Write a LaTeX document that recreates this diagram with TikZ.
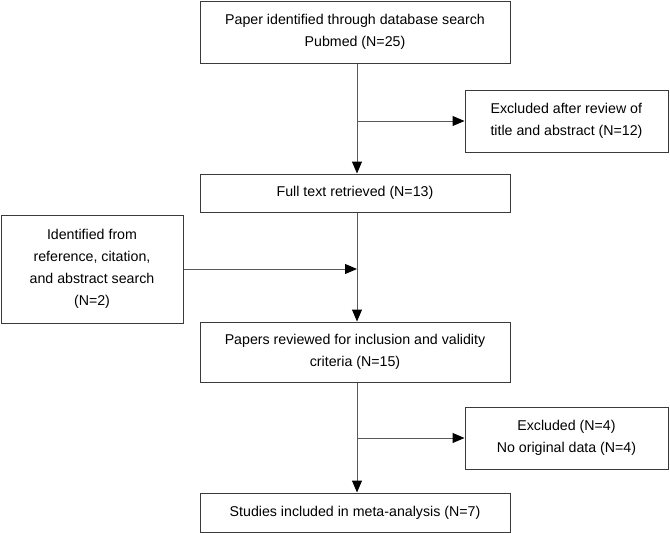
\documentclass[tikz,border=0pt]{standalone}
\usepackage{fontspec}
\setmainfont{Liberation Sans}
\usetikzlibrary{arrows.meta}
\definecolor{linegray}{HTML}{5A5A5A}
\definecolor{boxgray}{HTML}{3A3A3A}
\begin{document}
\begin{tikzpicture}[x=1pt, y=-1pt,
    box/.style={draw=boxgray, line width=1pt, inner sep=0pt, align=center,
      font=\fontsize{14.2}{21.5}\selectfont},
    mainbox/.style={box, minimum width=310pt},
    sidebox/.style={box, minimum width=203pt, minimum height=62pt},
    flow/.style={draw=linegray, line width=1pt,
      -{Triangle[length=12pt,width=10pt,color=black]}}]
  \useasboundingbox (0,0) rectangle (670,533);

  % Main column
  \node[mainbox, minimum height=62pt] (ident) at (355,32) {Paper identified through database search\\Pubmed (N=25)};
  \node[mainbox, minimum height=38pt] (full) at (355,193) {Full text retrieved (N=13)};
  \node[mainbox, minimum height=60pt] (review) at (355,352) {Papers reviewed for inclusion and validity\\criteria (N=15)};
  \node[mainbox, minimum height=39pt] (incl) at (355,512.5) {Studies included in meta-analysis (N=7)};

  % Side boxes
  \node[sidebox, align=left] (excl1) at (566.5,121) {Excluded after review of\\title and abstract (N=12)};
  \node[sidebox] (excl2) at (566.5,438) {Excluded (N=4)\\No original data (N=4)};
  \node[box, minimum width=182pt, minimum height=108pt, font=\fontsize{14.2}{22}\selectfont] (other) at (92,269) {Identified from\\reference, citation,\\and abstract search\\(N=2)};

  % Connectors
  \coordinate (spine) at (357,0);
  \draw[flow] (ident.south -| spine) -- (full.north -| spine);
  \draw[flow] (excl1.west -| spine) -- (excl1.west);
  \draw[flow] (full.south -| spine) -- (review.north -| spine);
  \draw[flow] (other.east) -- (other.east -| spine);
  \draw[flow] (review.south -| spine) -- (incl.north -| spine);
  \draw[flow] (excl2.west -| spine) -- (excl2.west);
\end{tikzpicture}
\end{document}
